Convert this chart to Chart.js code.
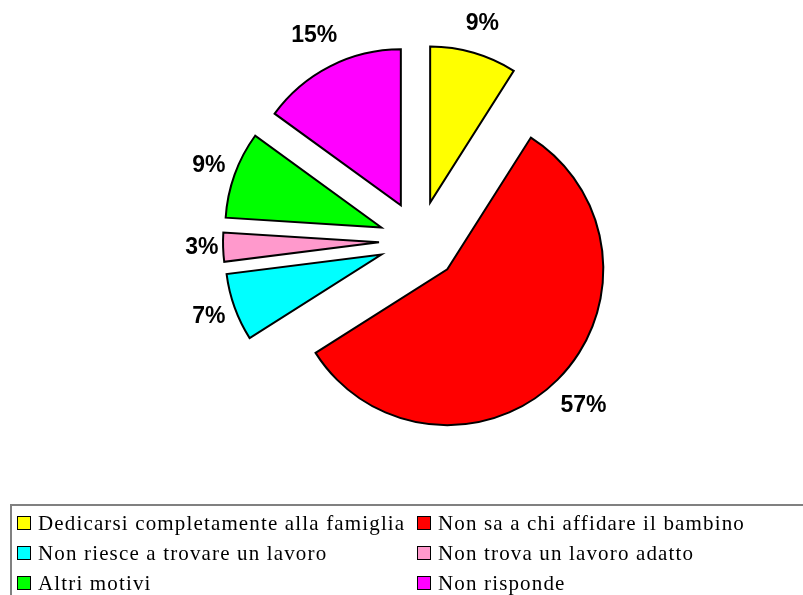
<!DOCTYPE html>
<html>
<head>
<meta charset="utf-8">
<script src="https://cdn.jsdelivr.net/npm/chart.js@4/dist/chart.umd.min.js"></script>
<style>
  html, body { margin: 0; padding: 0; background: #fff; overflow: hidden; }
  #wrap { position: relative; width: 803px; height: 595px; overflow: hidden; }
  #myChart { position: absolute; left: 0; top: 0; }
  #legend {
    position: absolute; left: 10px; top: 504px; width: 820px; height: 120px;
    border: 2px solid #808080; box-sizing: border-box; padding: 2px 0 0 5px;
    font-family: "Liberation Serif", "Times New Roman", serif; font-size: 21px;
    letter-spacing: 1.15px; color: #000;
    display: grid; grid-template-columns: 400px 400px; grid-auto-rows: 30px;
    align-content: start;
  }
  .item { height: 30px; line-height: 30px; white-space: nowrap; display: flex; align-items: flex-start; }
  .sw { width: 14px; height: 14px; box-sizing: border-box; border: 1.5px solid #000; margin-top: 8px; margin-right: 7px; flex: none; }
</style>
</head>
<body>
<div id="wrap">
  <canvas id="myChart" width="803" height="595"></canvas>
  <div id="legend"></div>
</div>
<script>
const categories = [
  'Dedicarsi completamente alla famiglia',
  'Non sa a chi affidare il bambino',
  'Non riesce a trovare un lavoro',
  'Non trova un lavoro adatto',
  'Altri motivi',
  'Non risponde'
];
const values = [9, 57, 7, 3, 9, 15];
const sliceColors = ['#ffff00', '#ff0000', '#00ffff', '#ff99cc', '#00ff00', '#ff00ff'];

const EXPLODE = 40;   // every slice pulled out from the centre
const LABEL_GAP = 200; // label box edge distance from the centre
const LABEL_HH = 23;   // half height of the label box

// legend (two columns, row order like the original)
const legendEl = document.getElementById('legend');
categories.forEach((name, i) => {
    const item = document.createElement('div');
    item.className = 'item';
    const sw = document.createElement('span');
    sw.className = 'sw';
    sw.style.background = sliceColors[i];
    item.appendChild(sw);
    item.appendChild(document.createTextNode(name));
    legendEl.appendChild(item);
});

const explode = {
    id: 'explode',
    afterDatasetsUpdate(chart) {
        chart.getDatasetMeta(0).data.forEach(arc => {
            const mid = (arc.startAngle + arc.endAngle) / 2;
            arc.$cx = arc.x;
            arc.$cy = arc.y;
            arc.x += Math.cos(mid) * EXPLODE;
            arc.y += Math.sin(mid) * EXPLODE;
        });
    },
    afterDatasetsDraw(chart) {
        const ctx = chart.ctx;
        ctx.save();
        ctx.font = 'bold 23px "Liberation Sans", Arial, sans-serif';
        ctx.fillStyle = '#000';
        ctx.textAlign = 'center';
        ctx.textBaseline = 'middle';
        chart.getDatasetMeta(0).data.forEach((arc, i) => {
            const text = values[i] + '%';
            const mid = (arc.startAngle + arc.endAngle) / 2;
            const c = Math.cos(mid), s = Math.sin(mid);
            const hw = ctx.measureText(text).width / 2;
            const d = LABEL_GAP + hw * Math.abs(c) + LABEL_HH * Math.abs(s);
            ctx.fillText(text, arc.$cx + c * d, arc.$cy + s * d);
        });
        ctx.restore();
    }
};

const ctx = document.getElementById('myChart').getContext('2d');
new Chart(ctx, {
    type: 'pie',
    data: {
        labels: categories,
        datasets: [{
            data: values,
            backgroundColor: sliceColors,
            borderColor: '#000',
            borderWidth: 2,
            hoverBorderWidth: 2,
            hoverOffset: 0,
            borderJoinStyle: 'miter'
        }]
    },
    options: {
        responsive: false,
        animation: false,
        events: [],
        layout: { padding: { left: 262, right: 227, top: 84, bottom: 197 } },
        plugins: {
            legend: { display: false },
            tooltip: { enabled: false }
        }
    },
    plugins: [explode]
});
</script>
</body>
</html>
